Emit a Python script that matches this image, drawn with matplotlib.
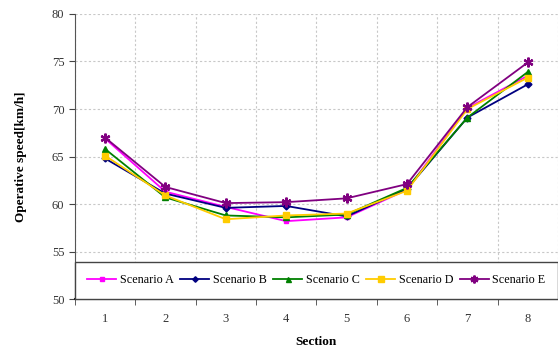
import numpy as np
import matplotlib
matplotlib.use('Agg')
import matplotlib.pyplot as plt
from matplotlib.ticker import FixedLocator

matplotlib.rcParams['font.family'] = ['Liberation Serif', 'DejaVu Serif']
matplotlib.rcParams['font.size'] = 9

sections = [1, 2, 3, 4, 5, 6, 7, 8]
scenario_a = [66.9, 61.3, 59.7, 58.2, 58.6, 61.5, 70.1, 73.5]
scenario_b = [64.8, 61.1, 59.6, 59.8, 58.7, 61.6, 69.1, 72.6]
scenario_c = [65.8, 60.7, 58.8, 58.6, 58.9, 61.7, 69.1, 73.9]
scenario_d = [65.1, 60.9, 58.4, 58.8, 59.0, 61.4, 70.0, 73.3]
scenario_e = [67.0, 61.8, 60.1, 60.2, 60.6, 62.1, 70.2, 74.9]

fig = plt.figure(figsize=(5.58, 3.49), dpi=100)
ax = fig.add_axes([0.134, 0.143, 0.866, 0.817])

ax.plot(sections, scenario_a, color='#FF00FF', marker='s', markersize=3.5, lw=1.3, label='Scenario A')
ax.plot(sections, scenario_b, color='#000080', marker='D', markersize=3.5, lw=1.3, label='Scenario B')
ax.plot(sections, scenario_c, color='#008000', marker='^', markersize=4.5, lw=1.3, label='Scenario C')
ax.plot(sections, scenario_d, color='#FFCC00', marker='s', markersize=5, lw=1.3, label='Scenario D')
ax.plot(sections, scenario_e, color='#800080', marker=(6, 2, 0), markersize=7, mew=1.6, lw=1.3, label='Scenario E')

ax.set_xlim(0.5, 8.5)
ax.set_ylim(50, 80)
ax.set_yticks(np.arange(50, 81, 5))
ax.set_xticks(sections)
ax.xaxis.set_minor_locator(FixedLocator(np.arange(0.5, 8.6, 1)))
ax.tick_params(axis='x', which='major', length=0, pad=10, colors='#333333')
ax.tick_params(axis='x', which='minor', length=4, color='#444444')
ax.tick_params(axis='y', length=4, color='#444444', colors='#333333')

ax.grid(axis='y', which='major', linestyle=(0, (2, 2)), color='#c8c8c8', lw=0.8)
ax.grid(axis='x', which='minor', linestyle=(0, (2, 2)), color='#c8c8c8', lw=0.8)
ax.set_axisbelow(True)

for s in ['top', 'right']:
    ax.spines[s].set_visible(False)
ax.spines['left'].set_color('#555555')
ax.spines['bottom'].set_color('#222222')
ax.spines['bottom'].set_linewidth(1.5)
ax.spines['bottom'].set_zorder(5)

ax.set_xlabel('Section', fontweight='bold', fontsize=9.5, labelpad=8)
ax.set_ylabel('Operative speed[km/h]', fontweight='bold', fontsize=9.5, labelpad=18)

leg = ax.legend(loc='lower left', bbox_to_anchor=(0, 0, 1, 3.8 / 30), mode='expand', ncol=5,
                frameon=True, fancybox=False, borderaxespad=0, borderpad=1.05, handlelength=2.4,
                handletextpad=0.3, columnspacing=1.2, fontsize=8.7, markerscale=0.8)
leg.get_frame().set_edgecolor('#444444')
leg.get_frame().set_linewidth(1.0)
leg.get_frame().set_alpha(1)

plt.savefig('out.png', dpi=100)
